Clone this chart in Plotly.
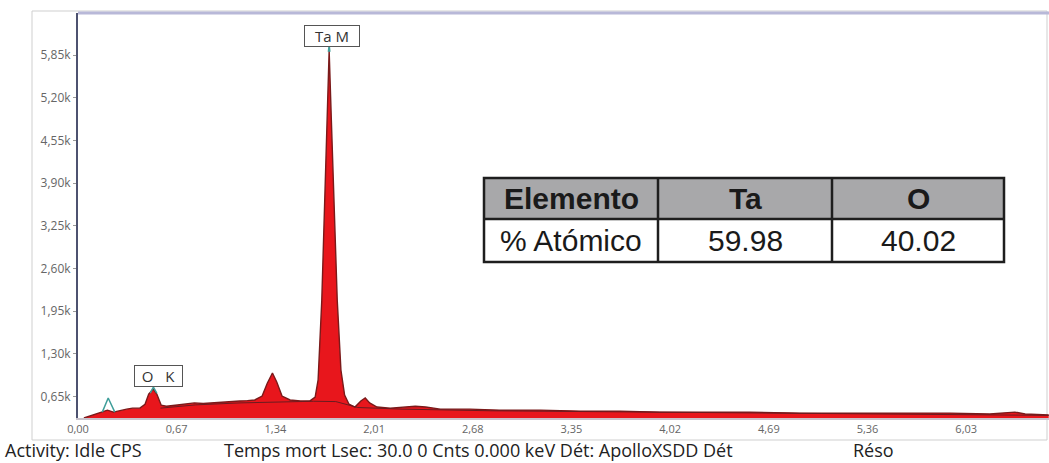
import plotly.graph_objects as go

# ---- data ----
energy_kev = [0.04, 0.08, 0.13, 0.17, 0.20, 0.24, 0.29, 0.33, 0.37, 0.42, 0.455, 0.48, 0.51, 0.535, 0.565,
              0.60, 0.66, 0.73, 0.79, 0.85, 0.90, 0.95, 1.00, 1.05, 1.10, 1.15, 1.20, 1.25, 1.285, 1.32, 1.35,
              1.385, 1.44, 1.51, 1.575, 1.61, 1.63, 1.655, 1.675, 1.69, 1.705, 1.72, 1.74, 1.76, 1.785,
              1.81, 1.84, 1.88, 1.92, 1.95, 1.98, 2.03, 2.12, 2.22, 2.29, 2.36, 2.46, 2.66, 2.86, 3.14,
              3.41, 3.68, 3.95, 4.22, 4.56, 4.90, 5.24, 5.58, 5.92, 6.19, 6.36, 6.43, 6.59]
counts = [320, 350, 395, 425, 440, 410, 440, 455, 470, 470, 530, 685, 760, 685, 515,
          500, 515, 530, 550, 540, 550, 560, 565, 575, 580, 585, 595, 655, 850, 1005, 865,
          655, 595, 580, 580, 640, 900, 2115, 3640, 4855, 5920, 4855, 3335, 2115, 1050,
          670, 530, 487, 580, 625, 550, 487, 470, 487, 500, 487, 455, 455, 440, 440,
          425, 425, 410, 410, 410, 395, 395, 395, 395, 380, 410, 380, 365]

background_kev = [0.56, 0.80, 1.10, 1.40, 1.60, 1.75, 1.90, 2.20, 2.80, 3.60, 4.60, 5.60, 6.59]
background_counts = [470, 520, 550, 565, 575, 570, 480, 455, 430, 415, 395, 380, 360]

marker_lines = {
    "low": ([0.165, 0.205, 0.25], [410, 625, 410]),
    "O K": ([0.49, 0.512, 0.535], [700, 790, 700]),
    "Ta M": ([1.70, 1.705, 1.71], [5900, 6000, 5900]),
}

peak_labels = ["Ta M", "O\u00a0\u00a0\u00a0K"]
peak_label_x = [1.724, 0.546]
peak_label_y = [6147, 967]

x_tickvals = [0.00, 0.67, 1.34, 2.01, 2.68, 3.35, 4.02, 4.69, 5.36, 6.03]
x_ticktext = ["0,00", "0,67", "1,34", "2,01", "2,68", "3,35", "4,02", "4,69", "5,36", "6,03"]
y_tickvals = [650, 1300, 1950, 2600, 3250, 3900, 4550, 5200, 5850]
y_ticktext = ["0,65k", "1,30k", "1,95k", "2,60k", "3,25k", "3,90k", "4,55k", "5,20k", "5,85k"]

table_header = ["Elemento", "Ta", "O"]
table_row = ["% Atómico", "59.98", "40.02"]

status_parts = ["Activity: Idle CPS", "Temps mort Lsec: 30.0 0 Cnts 0.000 keV Dét: ApolloXSDD Dét", "Réso"]

# ---- layout geometry (pixels) ----
W, H = 1049, 463
L, R, T, B = 78, 0, 13, 45
PW, PH = W - L - R, H - T - B


def px(x):
    return (x - L) / PW


def py(y):
    return (H - B - y) / PH


fig = go.Figure()

fig.add_trace(go.Scatter(x=energy_kev, y=counts, mode="lines", fill="tozeroy",
                         fillcolor="#e8161c", line=dict(color="#7a1a1a", width=1.4),
                         hoverinfo="skip", showlegend=False))
fig.add_trace(go.Scatter(x=background_kev, y=background_counts, mode="lines",
                         line=dict(color="#6a1c20", width=1), hoverinfo="skip", showlegend=False))
for name, (mx, my) in marker_lines.items():
    fig.add_trace(go.Scatter(x=mx, y=my, mode="lines", line=dict(color="#3f9e9a", width=1.5),
                             hoverinfo="skip", showlegend=False))

for lab, lx, ly, bw in zip(peak_labels, peak_label_x, peak_label_y, [52, 45]):
    fig.add_annotation(x=lx, y=ly, xref="x", yref="y", text=lab, showarrow=False,
                       font=dict(family="Open Sans", size=15, color="#333333"),
                       width=bw, height=18, align="center",
                       bgcolor="white", bordercolor="#555555", borderwidth=1, borderpad=1)

shapes = []
# outer frame
shapes.append(dict(type="rect", xref="paper", yref="paper", x0=px(32), x1=px(1047), y0=py(440), y1=py(11),
                   line=dict(color="#cfcfcf", width=1), fillcolor="rgba(0,0,0,0)", layer="below"))
# top border of plot
shapes.append(dict(type="line", xref="paper", yref="paper", x0=px(78), x1=px(1049), y0=py(13), y1=py(13),
                   line=dict(color="#b8b8d8", width=3)))

# table
tx = [484, 658, 832, 1004]
ty = [178, 219, 262]
shapes.append(dict(type="rect", xref="paper", yref="paper", x0=px(tx[0]), x1=px(tx[3]), y0=py(ty[1]), y1=py(ty[0]),
                   fillcolor="#a8a8aa", line=dict(width=0)))
shapes.append(dict(type="rect", xref="paper", yref="paper", x0=px(tx[0]), x1=px(tx[3]), y0=py(ty[2]), y1=py(ty[1]),
                   fillcolor="white", line=dict(width=0)))
shapes.append(dict(type="rect", xref="paper", yref="paper", x0=px(tx[0]), x1=px(tx[3]), y0=py(ty[2]), y1=py(ty[0]),
                   fillcolor="rgba(0,0,0,0)", line=dict(color="#1e1e1e", width=2.5)))
shapes.append(dict(type="line", xref="paper", yref="paper", x0=px(tx[0]), x1=px(tx[3]), y0=py(ty[1]), y1=py(ty[1]),
                   line=dict(color="#1e1e1e", width=2.5)))
for cx in tx[1:3]:
    shapes.append(dict(type="line", xref="paper", yref="paper", x0=px(cx), x1=px(cx), y0=py(ty[2]), y1=py(ty[0]),
                       line=dict(color="#1e1e1e", width=2.5)))

for i in range(3):
    cx = (tx[i] + tx[i + 1]) / 2
    fig.add_annotation(x=px(cx), y=py((ty[0] + ty[1]) / 2), xref="paper", yref="paper",
                       text="<b>" + table_header[i] + "</b>", showarrow=False,
                       font=dict(family="Liberation Sans, Arial", size=30, color="#1a1a1a"),
                       xanchor="center", yanchor="middle")
    fig.add_annotation(x=px(cx), y=py((ty[1] + ty[2]) / 2), xref="paper", yref="paper",
                       text=table_row[i], showarrow=False,
                       font=dict(family="Liberation Sans, Arial", size=30, color="#1a1a1a"),
                       xanchor="center", yanchor="middle")

for part, sx in zip(status_parts, [3, 222, 851]):
    fig.add_annotation(x=px(sx), y=py(450.5), xref="paper", yref="paper", text=part, showarrow=False,
                       xanchor="left", yanchor="middle",
                       font=dict(family="Open Sans", size=18, color="#222222"))

fig.update_layout(
    width=W, height=H,
    margin=dict(l=L, r=R, t=T, b=B),
    paper_bgcolor="white", plot_bgcolor="white",
    shapes=shapes,
    xaxis=dict(range=[0, 6.592], tickvals=x_tickvals, ticktext=x_ticktext, showgrid=False, zeroline=False,
               showline=True, linecolor="#c9c3cc", linewidth=2, ticks="", ticklen=0,
               tickfont=dict(family="Open Sans", size=11, color="#666666")),
    yaxis=dict(range=[320, 6490], tickvals=y_tickvals, ticktext=y_ticktext, showgrid=False, zeroline=False,
               showline=True, linecolor="#4d5270", linewidth=2, ticks="outside", ticklen=3, tickcolor="#999999",
               tickfont=dict(family="Open Sans", size=12, color="#666666")),
)

fig.write_html("out.html", config={"displayModeBar": False},
               post_script="document.body.style.margin='0px';document.body.style.padding='0px';")
